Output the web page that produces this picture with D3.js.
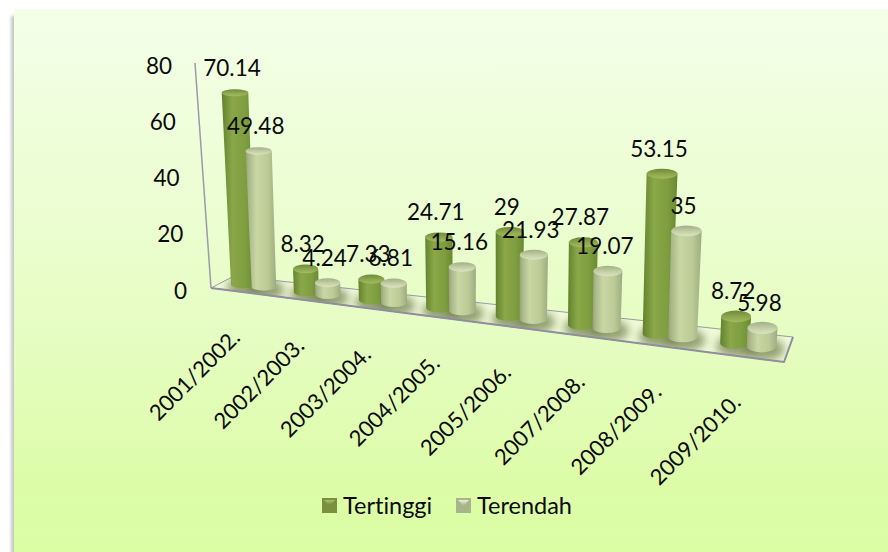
<!DOCTYPE html>
<html>

<head>
  <meta charset="UTF-8" />
  <title>Tertinggi / Terendah</title>
  <style>
    html, body {
      margin: 0;
      background: #fff;
    }

    svg {
      display: block;
    }

    text {
      font-family: Lato, "Open Sans", sans-serif;
      font-variant-ligatures: none;
      fill: #0a0a0a;
    }
  </style>
  <script src="https://d3js.org/d3.v7.min.js"></script>
</head>

<body>
  <script>
    let categories = ["2001/2002.", "2002/2003.", "2003/2004.", "2004/2005.", "2005/2006.", "2007/2008.", "2008/2009.", "2009/2010."];
    let tertinggi = [70.14, 8.32, 7.33, 24.71, 29, 27.87, 53.15, 8.72];
    let terendah = [49.48, 4.24, 6.81, 15.16, 21.93, 19.07, 35, 5.98];
    let seriesNames = ["Tertinggi", "Terendah"];
    let yTicks = [0, 20, 40, 60, 80];

    let width = 888, height = 552;
    let fontSize = 22.5;

    /* floor corners of the 3d box, as measured on the picture */
    let frontLeft = [211, 288], frontRight = [784, 362], backRight = [793, 337], backLeft = [234, 276];
    let wallTop = [195, 63];

    let x0 = d3.scaleBand().domain(categories).range([0, 1]);
    let x1 = d3.scaleBand().domain(seriesNames).range([0, x0.bandwidth()]).paddingOuter(0.5);
    let yAxisScale = d3.scaleLinear().domain([0, 80]).range([288, 63]);
    let pxPerUnit = d3.scaleLinear().domain([0, 1]).range([2.72, 3.1]);
    let radius = d3.scaleLinear().domain([0, 1]).range([12, 15]);

    /* perspective: columns spread out towards the right */
    function warp(u) {
      return u / (1 + 0.15 * (1 - u));
    }

    function floorPoint(t, v) {
      let fx = d3.interpolateNumber(frontLeft[0], frontRight[0])(t);
      let fy = d3.interpolateNumber(frontLeft[1], frontRight[1])(t);
      let bx = d3.interpolateNumber(backLeft[0], backRight[0])(t);
      let by = d3.interpolateNumber(backLeft[1], backRight[1])(t);
      return [fx + (bx - fx) * v, fy + (by - fy) * v];
    }

    function lean(x) {
      return (x - 481) * 0.000178;
    }

    function column(cat, series, value) {
      let u = x0(cat) + x1(series) + x1.bandwidth() / 2;
      let t = warp(u);
      let base = floorPoint(t, 0.5);
      let h = value * pxPerUnit(t);
      let r = radius(t);
      return {
        series: series,
        value: value,
        x: base[0],
        y: base[1],
        topX: base[0] + lean(base[0]) * h,
        topY: base[1] - h,
        r: r,
        rTop: r * (1 + h * 0.0005),
        ry: r * (0.34 + 0.08 * t - 0.0003 * h)
      };
    }

    let columns = [];
    categories.forEach((cat, i) => {
      columns.push(column(cat, seriesNames[0], tertinggi[i]));
      columns.push(column(cat, seriesNames[1], terendah[i]));
    });

    let svg = d3.select("body")
      .append("svg")
      .attr("width", width)
      .attr("height", height);

    let defs = svg.append("defs");

    /* gradients and filters */
    function linear(id, x2, y2, stops) {
      let g = defs.append("linearGradient")
        .attr("id", id)
        .attr("x1", 0).attr("y1", 0)
        .attr("x2", x2).attr("y2", y2);
      stops.forEach(s => g.append("stop").attr("offset", s[0]).attr("stop-color", s[1]));
    }

    linear("bg", 0, 1, [[0, "#f4ffe8"], [0.55, "#e7fdc6"], [0.87, "#ddfca9"], [1, "#dbfea4"]]);
    linear("body-Tertinggi", 1, 0, [[0, "#5f7f2c"], [0.1, "#6f8f36"], [0.32, "#8aa749"], [0.7, "#7f9e40"], [0.93, "#6f8f35"], [1, "#64832e"]]);
    linear("body-Terendah", 1, 0, [[0, "#94a276"], [0.1, "#a9b78a"], [0.35, "#c9d6a5"], [0.72, "#bccb96"], [0.94, "#a5b386"], [1, "#97a57a"]]);
    linear("cap-Tertinggi", 0, 1, [[0, "#6d8a3a"], [0.55, "#8ea84e"], [1, "#a3bb62"]]);
    linear("cap-Terendah", 0, 1, [[0, "#a3ae88"], [0.55, "#c4cfa6"], [1, "#dbe4bf"]]);
    linear("swatch-Tertinggi", 0, 1, [[0, "#a9c06a"], [1, "#6d8638"]]);
    linear("swatch-Terendah", 0, 1, [[0, "#eef3d8"], [1, "#a3ae84"]]);

    defs.append("filter").attr("id", "blur").attr("x", "-60%").attr("y", "-60%").attr("width", "220%").attr("height", "220%")
      .append("feGaussianBlur").attr("stdDeviation", 4);
    defs.append("filter").attr("id", "blur-panel").attr("x", "-5%").attr("y", "-5%").attr("width", "110%").attr("height", "110%")
      .append("feGaussianBlur").attr("stdDeviation", 1.5);
    defs.append("clipPath").attr("id", "floor-clip")
      .append("polygon")
      .attr("points", [frontLeft, frontRight, backRight, backLeft].join(" "));

    /* chart area */
    svg.append("rect")
      .attr("x", 11).attr("y", 16)
      .attr("width", width).attr("height", height)
      .attr("fill", "#c8c8c8")
      .attr("filter", "url(#blur-panel)");
    svg.append("rect")
      .attr("x", 14).attr("y", 9)
      .attr("width", width - 14).attr("height", height - 9)
      .attr("fill", "url(#bg)");

    /* floor, shadows stay inside it */
    svg.append("polygon")
      .attr("points", [frontLeft, frontRight, backRight, backLeft].join(" "))
      .attr("fill", "#f0fad8")
      .attr("stroke", "#9a9aa8")
      .attr("stroke-width", 1);
    svg.append("g")
      .attr("clip-path", "url(#floor-clip)")
      .selectAll("ellipse")
      .data(columns)
      .join("ellipse")
      .attr("cx", d => d.x + 2)
      .attr("cy", d => d.y + 3)
      .attr("rx", d => d.r + 6)
      .attr("ry", d => d.r * 0.5 + 4)
      .attr("fill", "#6f7c4c")
      .attr("opacity", 0.7)
      .attr("filter", "url(#blur)");
    svg.append("path")
      .attr("d", d3.line()([frontLeft, frontRight, backRight]))
      .attr("fill", "none")
      .attr("stroke", "#8f8ea0")
      .attr("stroke-width", 2);
    svg.append("path")
      .attr("d", d3.line()([frontLeft, wallTop]))
      .attr("fill", "none")
      .attr("stroke", "#9a9aaa")
      .attr("stroke-width", 1.5);

    /* y axis: labels follow the slanted wall */
    let yAxis = svg.append("g")
      .attr("transform", "translate(187,3)")
      .call(d3.axisLeft(yAxisScale).tickValues(yTicks).tickSize(0).tickPadding(0));
    yAxis.select(".domain").remove();
    yAxis.selectAll(".tick text")
      .attr("x", d => -d / 80 * 15)
      .attr("font-size", fontSize)
      .style("font-family", "Lato, 'Open Sans', sans-serif");

    /* columns */
    let bars = svg.append("g")
      .selectAll("g")
      .data(columns)
      .join("g");

    bars.append("path")
      .attr("d", d => {
        let topL = d.topX - d.rTop, topR = d.topX + d.rTop;
        let botL = d.x - d.r, botR = d.x + d.r;
        return `M${topL},${d.topY} L${botL},${d.y} A${d.r},${d.ry} 0 0 0 ${botR},${d.y} L${topR},${d.topY} Z`;
      })
      .attr("fill", d => `url(#body-${d.series})`);

    bars.append("ellipse")
      .attr("cx", d => d.topX)
      .attr("cy", d => d.topY)
      .attr("rx", d => d.rTop)
      .attr("ry", d => d.ry)
      .attr("fill", d => `url(#cap-${d.series})`);

    /* data labels */
    svg.append("g")
      .selectAll("text")
      .data(columns)
      .join("text")
      .attr("x", d => d.topX - 3)
      .attr("y", d => d.topY - 25)
      .attr("dy", "0.35em")
      .attr("text-anchor", "middle")
      .attr("font-size", fontSize)
      .text(d => d.value);

    /* category labels */
    svg.append("g")
      .selectAll("text")
      .data(categories)
      .join("text")
      .attr("transform", d => {
        let p = floorPoint(warp(x0(d) + x0.bandwidth() / 2), 0);
        return `translate(${p[0] - 1},${p[1] + 47}) rotate(-45)`;
      })
      .attr("text-anchor", "end")
      .attr("font-size", 22)
      .text(d => d);

    /* legend */
    let legendX = d3.scaleOrdinal().domain(seriesNames).range([322, 456]);
    let legend = svg.append("g")
      .selectAll("g")
      .data(seriesNames)
      .join("g")
      .attr("transform", d => `translate(${legendX(d)},498)`);

    legend.append("rect")
      .attr("width", 15)
      .attr("height", 15)
      .attr("fill", d => d === seriesNames[0] ? "#7a9040" : "#a9b48a");
    legend.append("polygon")
      .attr("points", "2,2 13,2 7.5,8")
      .attr("fill", d => `url(#swatch-${d})`);
    legend.append("text")
      .attr("x", 21)
      .attr("y", 7.5)
      .attr("dy", "0.35em")
      .attr("font-size", 23.5)
      .text(d => d);
  </script>
</body>

</html>
